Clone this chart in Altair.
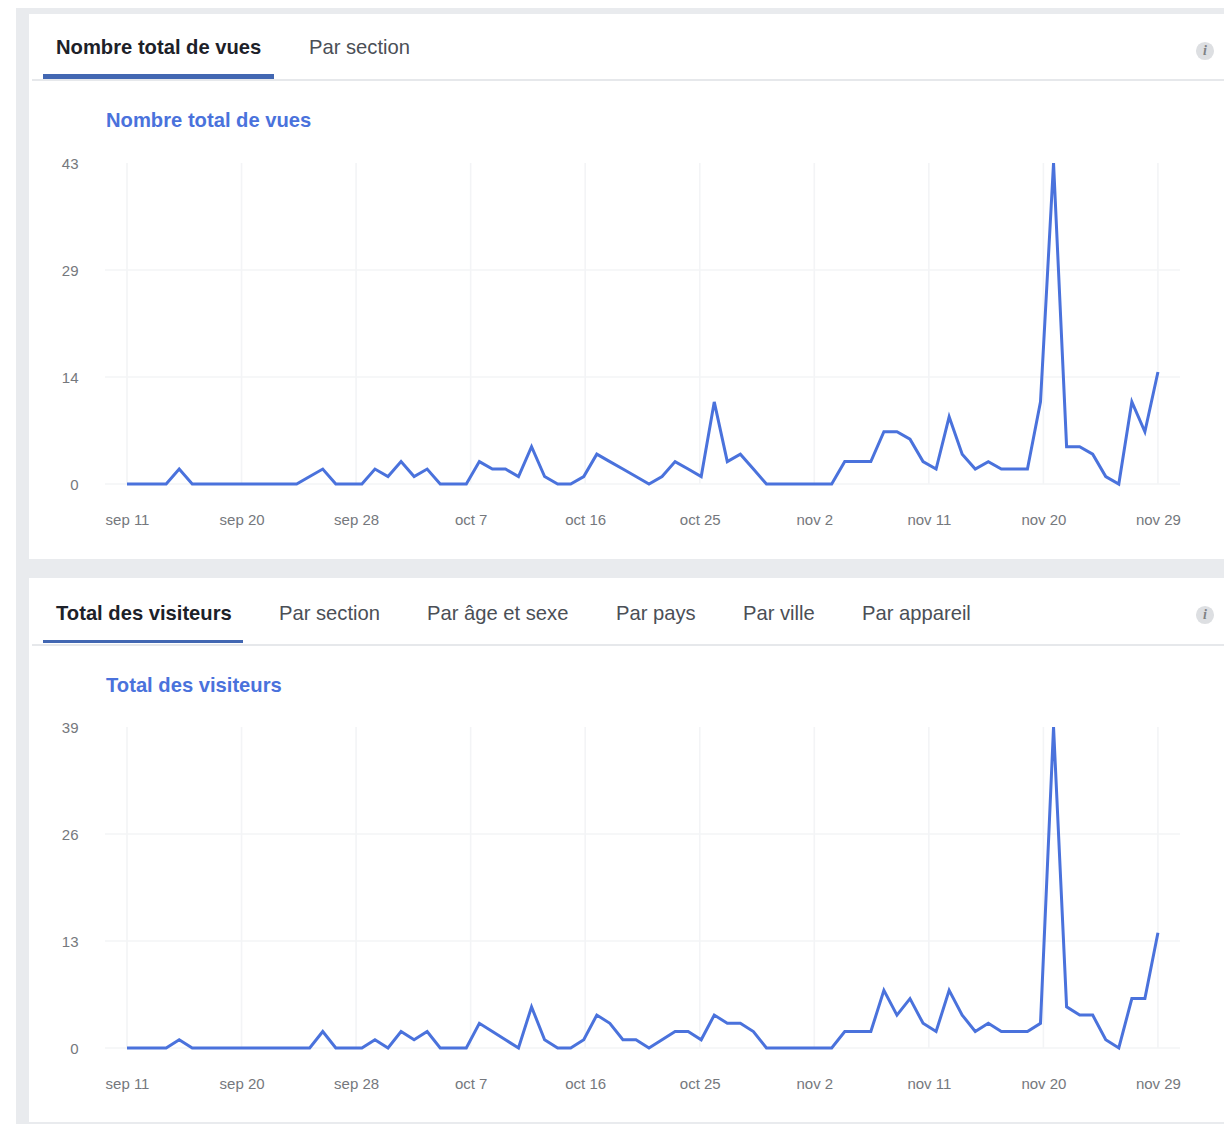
import altair as alt
import pandas as pd

views = [0,0,0,0,2,0,0,0,0,0,0,0,0,0,1,2,0,0,0,2,1,3,1,2,0,0,0,3,2,2,1,5,1,0,0,1,4,3,2,1,
         0,1,3,2,1,11,3,4,2,0,0,0,0,0,0,3,3,3,7,7,6,3,2,9,4,2,3,2,2,2,11,43,5,5,4,1,0,11,7,15]
visitors = [0,0,0,0,1,0,0,0,0,0,0,0,0,0,0,2,0,0,0,1,0,2,1,2,0,0,0,3,2,1,0,5,1,0,0,1,4,3,1,1,
            0,1,2,2,1,4,3,3,2,0,0,0,0,0,0,2,2,2,7,4,6,3,2,7,4,2,3,2,2,2,3,39,5,4,4,1,0,6,6,14]
tick_labels = ["sep 11","sep 20","sep 28","oct 7","oct 16","oct 25","nov 2","nov 11","nov 20","nov 29"]
tab_top = [("Nombre total de vues",48,True),("Par section",301,False)]
tab_bottom = [("Total des visiteurs",48,True),("Par section",271,False),("Par âge et sexe",419,False),
              ("Par pays",608,False),("Par ville",735,False),("Par appareil",854,False)]

FONT = "Liberation Sans"
BLUE = "#4a72dc"
GRID = "#f3f4f6"
PAGE = "#e9ebee"
LABEL = "#75787d"
one = pd.DataFrame({"k":[0]})
x_ticks = [i*79/9 for i in range(10)]
label_expr = "[" + ",".join(f"'{t}'" for t in tick_labels) + "][round(datum.value*9/79)]"

def rect(x0,x1,y0,y1,color):
    return alt.Chart(one).mark_rect(color=color).encode(
        x=alt.value(x0),x2=alt.value(x1),y=alt.value(y0),y2=alt.value(y1))

def text(s,x,y,size,color,bold=False):
    return alt.Chart(one).mark_text(font=FONT,fontSize=size,color=color,align="left",baseline="middle",
        fontWeight="bold" if bold else "normal").encode(
        x=alt.value(x),y=alt.value(y),text=alt.value(s))

def panel(values,top_val,y0,y1):
    xs = alt.Scale(domain=[-1.686,80.69],range=[97,1172],nice=False,zero=False)
    ys = alt.Scale(domain=[0,top_val],range=[y0,y1],nice=False,zero=False)
    y_ticks = [top_val*i/3 for i in range(4)]
    xa = alt.Axis(values=x_ticks,labelExpr=label_expr,title=None,domain=False,ticks=False,grid=False,
                orient="bottom",offset=y0-1116,labelPadding=28,labelFontSize=15,labelFont=FONT,
                labelColor=LABEL,labelOverlap=False,labelFlush=False,zindex=1)
    ya = alt.Axis(values=y_ticks,format="d",title=None,domain=False,ticks=False,grid=False,
                orient="left",offset=-97,labelPadding=27,labelFontSize=15,labelFont=FONT,
                labelColor=LABEL,labelOverlap=False,labelFlush=False,zindex=1)
    d = pd.DataFrame({"day":list(range(len(values))),"v":values})
    vgrid = alt.Chart(pd.DataFrame({"t":x_ticks})).mark_rule(color=GRID,strokeWidth=1.6).encode(
        x=alt.X("t:Q",scale=xs,axis=xa),y=alt.value(y1),y2=alt.value(y0))
    hgrid = alt.Chart(pd.DataFrame({"t":y_ticks[:3]})).mark_rule(color=GRID,strokeWidth=1.6).encode(
        y=alt.Y("t:Q",scale=ys,axis=ya),x=alt.value(97),x2=alt.value(1172))
    ln = alt.Chart(d).mark_line(color=BLUE,strokeWidth=3,clip=False).encode(
        x=alt.X("day:Q",scale=xs,axis=xa),
        y=alt.Y("v:Q",scale=ys,axis=ya),
    )
    return alt.layer(vgrid,hgrid,ln)

deco = [
    rect(8,1216,-3,1116,PAGE),
    rect(21,1216,6,551,"#ffffff"),
    rect(21,1216,570,1114,"#ffffff"),
    rect(24,1216,71,73,"#e6e8eb"),
    rect(35,266,66,71,"#4267b2"),
    rect(24,1216,636,638,"#e6e8eb"),
    rect(35,235,632,635,"#4267b2"),
]
for s,x,b in tab_top:
    deco.append(text(s,x,40,20.2,"#1d2129" if b else "#4b4f56",b))
for s,x,b in tab_bottom:
    deco.append(text(s,x,606,20.2,"#1d2129" if b else "#4b4f56",b))
deco.append(text("Nombre total de vues",98,113,20.2,"#4a72dc",True))
deco.append(text("Total des visiteurs",98,678,20.2,"#4a72dc",True))
for y in (43,607):
    deco.append(alt.Chart(one).mark_point(filled=True,color="#dddfe2",size=330,opacity=1).encode(
        x=alt.value(1197),y=alt.value(y)))
    deco.append(alt.Chart(one).mark_text(font="Liberation Serif",fontSize=14,fontStyle="italic",fontWeight="bold",
        color="#7f8285",align="center",baseline="middle").encode(x=alt.value(1197),y=alt.value(y),text=alt.value("i")))

chart = alt.layer(
    alt.layer(*deco),
    panel(views,43,476,155),
    panel(visitors,39,1040,719),
).resolve_scale(x="independent",y="independent").properties(
    width=1216,height=1116,padding=0,autosize=alt.AutoSizeParams(type="none"),background="#ffffff"
).configure_view(stroke=None)

chart.save("out.html", embed_options={"renderer": "svg", "actions": False})
